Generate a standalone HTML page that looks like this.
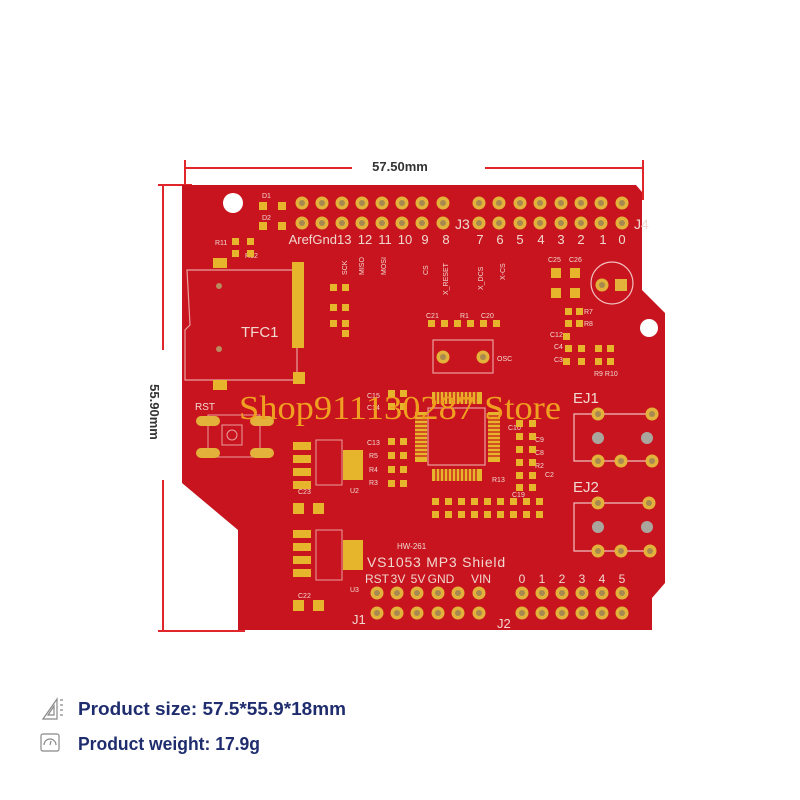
<!DOCTYPE html>
<html><head><meta charset="utf-8"><style>
html,body{margin:0;padding:0;background:#fff;width:800px;height:800px;overflow:hidden}
.t{font-family:"Liberation Sans",sans-serif}
</style></head><body>
<svg width="800" height="800" viewBox="0 0 800 800" xmlns="http://www.w3.org/2000/svg">
<defs>
<g id="ph"><circle r="6.5" fill="#e2b23a"/><circle r="3" fill="#a88a50"/></g>
<g id="pg"><circle r="6" fill="#aaa69e"/></g>
</defs>
<!-- dimension lines -->
<g stroke="#e0262a" stroke-width="2">
<line x1="185" y1="168" x2="352" y2="168"/><line x1="485" y1="168" x2="643" y2="168"/>
<line x1="185" y1="160" x2="185" y2="190"/><line x1="643" y1="160" x2="643" y2="200"/>
<line x1="163" y1="185" x2="163" y2="350"/><line x1="163" y1="480" x2="163" y2="630"/>
<line x1="158" y1="185" x2="192" y2="185"/><line x1="158" y1="631" x2="245" y2="631"/>
</g>
<text x="400" y="171" text-anchor="middle" class="t" font-size="13" font-weight="bold" fill="#333">57.50mm</text>
<text transform="translate(150,412) rotate(90)" text-anchor="middle" class="t" font-size="13" font-weight="bold" fill="#333">55.90mm</text>
<!-- board -->
<path d="M182,185 L636,185 L642,192 L642,290 L665,313 L665,583 L652,598 L652,630 L238,630 L238,530 L182,483 Z" fill="#c8141e"/>
<circle cx="233" cy="203" r="10" fill="#fff"/>
<circle cx="649" cy="328" r="9" fill="#fff"/>
<!-- top header -->
<g>
<use href="#ph" x="302" y="203"/><use href="#ph" x="322" y="203"/><use href="#ph" x="342" y="203"/><use href="#ph" x="362" y="203"/><use href="#ph" x="382" y="203"/><use href="#ph" x="402" y="203"/><use href="#ph" x="422" y="203"/><use href="#ph" x="443" y="203"/>
<use href="#ph" x="302" y="223"/><use href="#ph" x="322" y="223"/><use href="#ph" x="342" y="223"/><use href="#ph" x="362" y="223"/><use href="#ph" x="382" y="223"/><use href="#ph" x="402" y="223"/><use href="#ph" x="422" y="223"/><use href="#ph" x="443" y="223"/>
<use href="#ph" x="479" y="203"/><use href="#ph" x="499" y="203"/><use href="#ph" x="520" y="203"/><use href="#ph" x="540" y="203"/><use href="#ph" x="561" y="203"/><use href="#ph" x="581" y="203"/><use href="#ph" x="601" y="203"/><use href="#ph" x="622" y="203"/>
<use href="#ph" x="479" y="223"/><use href="#ph" x="499" y="223"/><use href="#ph" x="520" y="223"/><use href="#ph" x="540" y="223"/><use href="#ph" x="561" y="223"/><use href="#ph" x="581" y="223"/><use href="#ph" x="601" y="223"/><use href="#ph" x="622" y="223"/>
</g>
<g class="t" fill="#f0d8d0" font-size="13" text-anchor="middle">
<text x="320" y="244">ArefGnd13</text>
<text x="365" y="244">12</text><text x="385" y="244">11</text><text x="405" y="244">10</text><text x="425" y="244">9</text><text x="446" y="244">8</text>
<text x="480" y="244">7</text><text x="500" y="244">6</text><text x="520" y="244">5</text><text x="541" y="244">4</text><text x="561" y="244">3</text><text x="581" y="244">2</text><text x="603" y="244">1</text><text x="622" y="244">0</text>
</g>
<g class="t" fill="#f0d8d0" font-size="12">
<text x="455" y="229" font-size="14">J3</text>
<text x="634" y="229" font-size="14">J4</text>
<text x="241" y="337" font-size="15">TFC1</text>
<text x="195" y="410" font-size="10">RST</text>
<text x="573" y="403" font-size="15">EJ1</text>
<text x="573" y="492" font-size="15">EJ2</text>
<text x="367" y="567" font-size="14" letter-spacing="0.8">VS1053  MP3  Shield</text>
<text x="397" y="549" font-size="8">HW-261</text>
<text x="352" y="624" font-size="13">J1</text>
<text x="497" y="628" font-size="13">J2</text>
<text x="426" y="318" font-size="7">C21</text><text x="460" y="318" font-size="7">R1</text><text x="481" y="318" font-size="7">C20</text>
<text x="548" y="262" font-size="7">C25</text><text x="569" y="262" font-size="7">C26</text>
<text x="497" y="361" font-size="7">OSC</text>
<text x="298" y="494" font-size="7">C23</text><text x="298" y="598" font-size="7">C22</text>
<text x="367" y="445" font-size="7">C13</text><text x="369" y="458" font-size="7">R5</text><text x="369" y="472" font-size="7">R4</text><text x="369" y="485" font-size="7">R3</text>
<text x="508" y="430" font-size="7">C10</text><text x="535" y="442" font-size="7">C9</text><text x="535" y="455" font-size="7">C8</text><text x="535" y="468" font-size="7">R2</text><text x="545" y="477" font-size="7">C2</text><text x="492" y="482" font-size="7">R13</text><text x="512" y="497" font-size="7">C19</text>
<text x="215" y="245" font-size="7">R11</text><text x="245" y="258" font-size="7">R12</text><text x="262" y="198" font-size="7">D1</text><text x="262" y="220" font-size="7">D2</text>
<text x="584" y="314" font-size="7">R7</text><text x="584" y="326" font-size="7">R8</text><text x="550" y="337" font-size="7">C12</text><text x="554" y="349" font-size="7">C4</text><text x="554" y="362" font-size="7">C3</text><text x="594" y="376" font-size="7">R9 R10</text>
<text x="350" y="493" font-size="7">U2</text><text x="350" y="592" font-size="7">U3</text>
<text x="367" y="398" font-size="7">C15</text><text x="367" y="410" font-size="7">C14</text>
</g>
<g class="t" fill="#f0d8d0" font-size="12" text-anchor="middle">
<text x="377" y="583">RST</text><text x="398" y="583">3V</text><text x="418" y="583">5V</text><text x="441" y="583">GND</text><text x="481" y="583">VIN</text>
<text x="522" y="583">0</text><text x="542" y="583">1</text><text x="562" y="583">2</text><text x="582" y="583">3</text><text x="602" y="583">4</text><text x="622" y="583">5</text>
</g>
<g class="t" fill="#f0d8d0" font-size="7">
<text transform="translate(347,275) rotate(-90)">SCK</text><text transform="translate(364,275) rotate(-90)">MISO</text><text transform="translate(386,275) rotate(-90)">MOSI</text><text transform="translate(428,275) rotate(-90)">CS</text><text transform="translate(448,295) rotate(-90)">X_RESET</text><text transform="translate(483,290) rotate(-90)">X_DCS</text><text transform="translate(505,280) rotate(-90)">X-CS</text>
</g>
<!-- TFC1 -->
<path d="M187,270 L297,270 L297,380 L185,380 L185,330 L190,325 Z" fill="none" stroke="#e8a0a0" stroke-width="1.2"/>
<g fill="#e6b52c">
<rect x="292" y="262" width="12" height="86"/><rect x="293" y="372" width="12" height="12"/>
<rect x="213" y="258" width="14" height="10"/><rect x="213" y="380" width="14" height="10"/>
<rect x="259" y="202" width="8" height="8"/><rect x="278" y="202" width="8" height="8"/><rect x="259" y="222" width="8" height="8"/><rect x="278" y="222" width="8" height="8"/>
<rect x="232" y="238" width="7" height="7"/><rect x="247" y="238" width="7" height="7"/><rect x="232" y="250" width="7" height="7"/><rect x="247" y="250" width="7" height="7"/>
</g>
<circle cx="219" cy="286" r="3" fill="#b88c60"/><circle cx="219" cy="349" r="3" fill="#b88c60"/>
<!-- RST -->
<rect x="208" y="415" width="52" height="42" fill="none" stroke="#e8a0a0"/>
<rect x="222" y="425" width="20" height="20" fill="none" stroke="#e8a0a0"/><circle cx="232" cy="435" r="5" fill="none" stroke="#e8a0a0"/>
<g fill="#e2b23a"><rect x="196" y="416" width="24" height="10" rx="5"/><rect x="250" y="416" width="24" height="10" rx="5"/><rect x="196" y="448" width="24" height="10" rx="5"/><rect x="250" y="448" width="24" height="10" rx="5"/></g>
<!-- regulators -->
<g fill="#e6b52c">
<rect x="293" y="442" width="18" height="8"/><rect x="293" y="455" width="18" height="8"/><rect x="293" y="468" width="18" height="8"/><rect x="293" y="481" width="18" height="8"/>
<rect x="343" y="450" width="20" height="30"/>
<rect x="293" y="503" width="11" height="11"/><rect x="313" y="503" width="11" height="11"/>
<rect x="293" y="530" width="18" height="8"/><rect x="293" y="543" width="18" height="8"/><rect x="293" y="556" width="18" height="8"/><rect x="293" y="569" width="18" height="8"/>
<rect x="343" y="540" width="20" height="30"/>
<rect x="293" y="600" width="11" height="11"/><rect x="313" y="600" width="11" height="11"/>
</g>
<rect x="316" y="440" width="26" height="45" fill="none" stroke="#e8a0a0"/>
<rect x="316" y="530" width="26" height="50" fill="none" stroke="#e8a0a0"/>
<!-- OSC -->
<rect x="433" y="340" width="60" height="33" fill="none" stroke="#e8a0a0" stroke-width="1.2"/>
<use href="#ph" x="443" y="357"/><use href="#ph" x="483" y="357"/>
<!-- small pads -->
<g fill="#e6b52c">
<rect x="330" y="284" width="7" height="7"/><rect x="342" y="284" width="7" height="7"/><rect x="330" y="304" width="7" height="7"/><rect x="342" y="304" width="7" height="7"/><rect x="330" y="320" width="7" height="7"/><rect x="342" y="320" width="7" height="7"/><rect x="342" y="330" width="7" height="7"/>
<rect x="428" y="320" width="7" height="7"/><rect x="441" y="320" width="7" height="7"/><rect x="454" y="320" width="7" height="7"/><rect x="467" y="320" width="7" height="7"/><rect x="480" y="320" width="7" height="7"/><rect x="493" y="320" width="7" height="7"/>
<rect x="551" y="268" width="10" height="10"/><rect x="570" y="268" width="10" height="10"/><rect x="551" y="288" width="10" height="10"/><rect x="570" y="288" width="10" height="10"/>
<rect x="565" y="308" width="7" height="7"/><rect x="576" y="308" width="7" height="7"/><rect x="565" y="320" width="7" height="7"/><rect x="576" y="320" width="7" height="7"/>
<rect x="563" y="333" width="7" height="7"/><rect x="565" y="345" width="7" height="7"/><rect x="578" y="345" width="7" height="7"/><rect x="563" y="358" width="7" height="7"/><rect x="578" y="358" width="7" height="7"/>
<rect x="595" y="345" width="7" height="7"/><rect x="607" y="345" width="7" height="7"/><rect x="595" y="358" width="7" height="7"/><rect x="607" y="358" width="7" height="7"/>
<rect x="388" y="438" width="7" height="7"/><rect x="400" y="438" width="7" height="7"/><rect x="388" y="452" width="7" height="7"/><rect x="400" y="452" width="7" height="7"/><rect x="388" y="466" width="7" height="7"/><rect x="400" y="466" width="7" height="7"/><rect x="388" y="480" width="7" height="7"/><rect x="400" y="480" width="7" height="7"/>
<rect x="388" y="390" width="7" height="7"/><rect x="400" y="390" width="7" height="7"/><rect x="388" y="403" width="7" height="7"/><rect x="400" y="403" width="7" height="7"/>
<rect x="516" y="420" width="7" height="7"/><rect x="529" y="420" width="7" height="7"/><rect x="516" y="433" width="7" height="7"/><rect x="529" y="433" width="7" height="7"/><rect x="516" y="446" width="7" height="7"/><rect x="529" y="446" width="7" height="7"/><rect x="516" y="459" width="7" height="7"/><rect x="529" y="459" width="7" height="7"/><rect x="516" y="472" width="7" height="7"/><rect x="529" y="472" width="7" height="7"/><rect x="516" y="484" width="7" height="7"/><rect x="529" y="484" width="7" height="7"/>
</g>
<g fill="#e6b52c">
<rect x="432" y="498" width="7" height="7"/><rect x="445" y="498" width="7" height="7"/><rect x="458" y="498" width="7" height="7"/><rect x="471" y="498" width="7" height="7"/><rect x="484" y="498" width="7" height="7"/><rect x="497" y="498" width="7" height="7"/><rect x="510" y="498" width="7" height="7"/><rect x="523" y="498" width="7" height="7"/><rect x="536" y="498" width="7" height="7"/>
<rect x="432" y="511" width="7" height="7"/><rect x="445" y="511" width="7" height="7"/><rect x="458" y="511" width="7" height="7"/><rect x="471" y="511" width="7" height="7"/><rect x="484" y="511" width="7" height="7"/><rect x="497" y="511" width="7" height="7"/><rect x="510" y="511" width="7" height="7"/><rect x="523" y="511" width="7" height="7"/><rect x="536" y="511" width="7" height="7"/>
</g>
<!-- chip -->
<g fill="#e6b52c">
<rect x="432" y="392" width="50" height="12"/><rect x="432" y="469" width="50" height="12"/>
<rect x="415" y="412" width="12" height="50"/><rect x="488" y="412" width="12" height="50"/>
</g>
<g stroke="#c8141e" stroke-width="1.3">
<path d="M436,392v12M440,392v12M444,392v12M448,392v12M452,392v12M456,392v12M460,392v12M464,392v12M468,392v12M472,392v12M476,392v12"/>
<path d="M436,469v12M440,469v12M444,469v12M448,469v12M452,469v12M456,469v12M460,469v12M464,469v12M468,469v12M472,469v12M476,469v12"/>
<path d="M415,416h12M415,420h12M415,424h12M415,428h12M415,432h12M415,436h12M415,440h12M415,444h12M415,448h12M415,452h12M415,456h12"/>
<path d="M488,416h12M488,420h12M488,424h12M488,428h12M488,432h12M488,436h12M488,440h12M488,444h12M488,448h12M488,452h12M488,456h12"/>
</g>
<rect x="428" y="408" width="57" height="57" fill="#c8141e" stroke="#e8a0a0" stroke-width="1.2"/>
<!-- MIC -->
<circle cx="612" cy="283" r="21" fill="none" stroke="#f0c0c0" stroke-width="1.2"/>
<use href="#ph" x="602" y="285"/><rect x="615" y="279" width="12" height="12" fill="#e2b23a"/>
<!-- EJ -->
<g fill="none" stroke="#f0c0c0" stroke-width="1.2">
<path d="M598,414H574V461H652M598,414H652"/><path d="M598,503H574V551H650M598,503H649"/>
</g>
<use href="#ph" x="598" y="414"/><use href="#ph" x="652" y="414"/><use href="#pg" x="598" y="438"/><use href="#pg" x="647" y="438"/>
<use href="#ph" x="598" y="461"/><use href="#ph" x="621" y="461"/><use href="#ph" x="652" y="461"/>
<use href="#ph" x="598" y="503"/><use href="#ph" x="649" y="503"/><use href="#pg" x="598" y="527"/><use href="#pg" x="647" y="527"/>
<use href="#ph" x="598" y="551"/><use href="#ph" x="621" y="551"/><use href="#ph" x="650" y="551"/>
<!-- bottom headers -->
<g>
<use href="#ph" x="377" y="593"/><use href="#ph" x="397" y="593"/><use href="#ph" x="417" y="593"/><use href="#ph" x="438" y="593"/><use href="#ph" x="458" y="593"/><use href="#ph" x="479" y="593"/>
<use href="#ph" x="377" y="613"/><use href="#ph" x="397" y="613"/><use href="#ph" x="417" y="613"/><use href="#ph" x="438" y="613"/><use href="#ph" x="458" y="613"/><use href="#ph" x="479" y="613"/>
<use href="#ph" x="522" y="593"/><use href="#ph" x="542" y="593"/><use href="#ph" x="562" y="593"/><use href="#ph" x="582" y="593"/><use href="#ph" x="602" y="593"/><use href="#ph" x="622" y="593"/>
<use href="#ph" x="522" y="613"/><use href="#ph" x="542" y="613"/><use href="#ph" x="562" y="613"/><use href="#ph" x="582" y="613"/><use href="#ph" x="602" y="613"/><use href="#ph" x="622" y="613"/>
</g>
<!-- watermark -->
<text x="400" y="419" text-anchor="middle" font-family="Liberation Serif,serif" font-size="34" fill="#f0a020" textLength="322" lengthAdjust="spacingAndGlyphs">Shop911130287 Store</text>
<!-- bottom info -->
<g fill="none" stroke="#888" stroke-width="1.2">
<path d="M43,719 L57,699 L57,719 Z M48,715 L54,706 L54,715 Z"/><path d="M60,700h3M60,705h3M60,710h3M60,715h3"/>
<rect x="41" y="734" width="18" height="17" rx="2"/><path d="M44,745 a6,6 0 0 1 12,0 M50,745 l1,-4"/>
</g>
<text x="78" y="715" class="t" font-size="18" font-weight="bold" fill="#1f2d6e" textLength="268" lengthAdjust="spacingAndGlyphs">Product size: 57.5*55.9*18mm</text>
<text x="78" y="750" class="t" font-size="18" font-weight="bold" fill="#1f2d6e" textLength="182" lengthAdjust="spacingAndGlyphs">Product weight: 17.9g</text>
</svg>
</body></html>
